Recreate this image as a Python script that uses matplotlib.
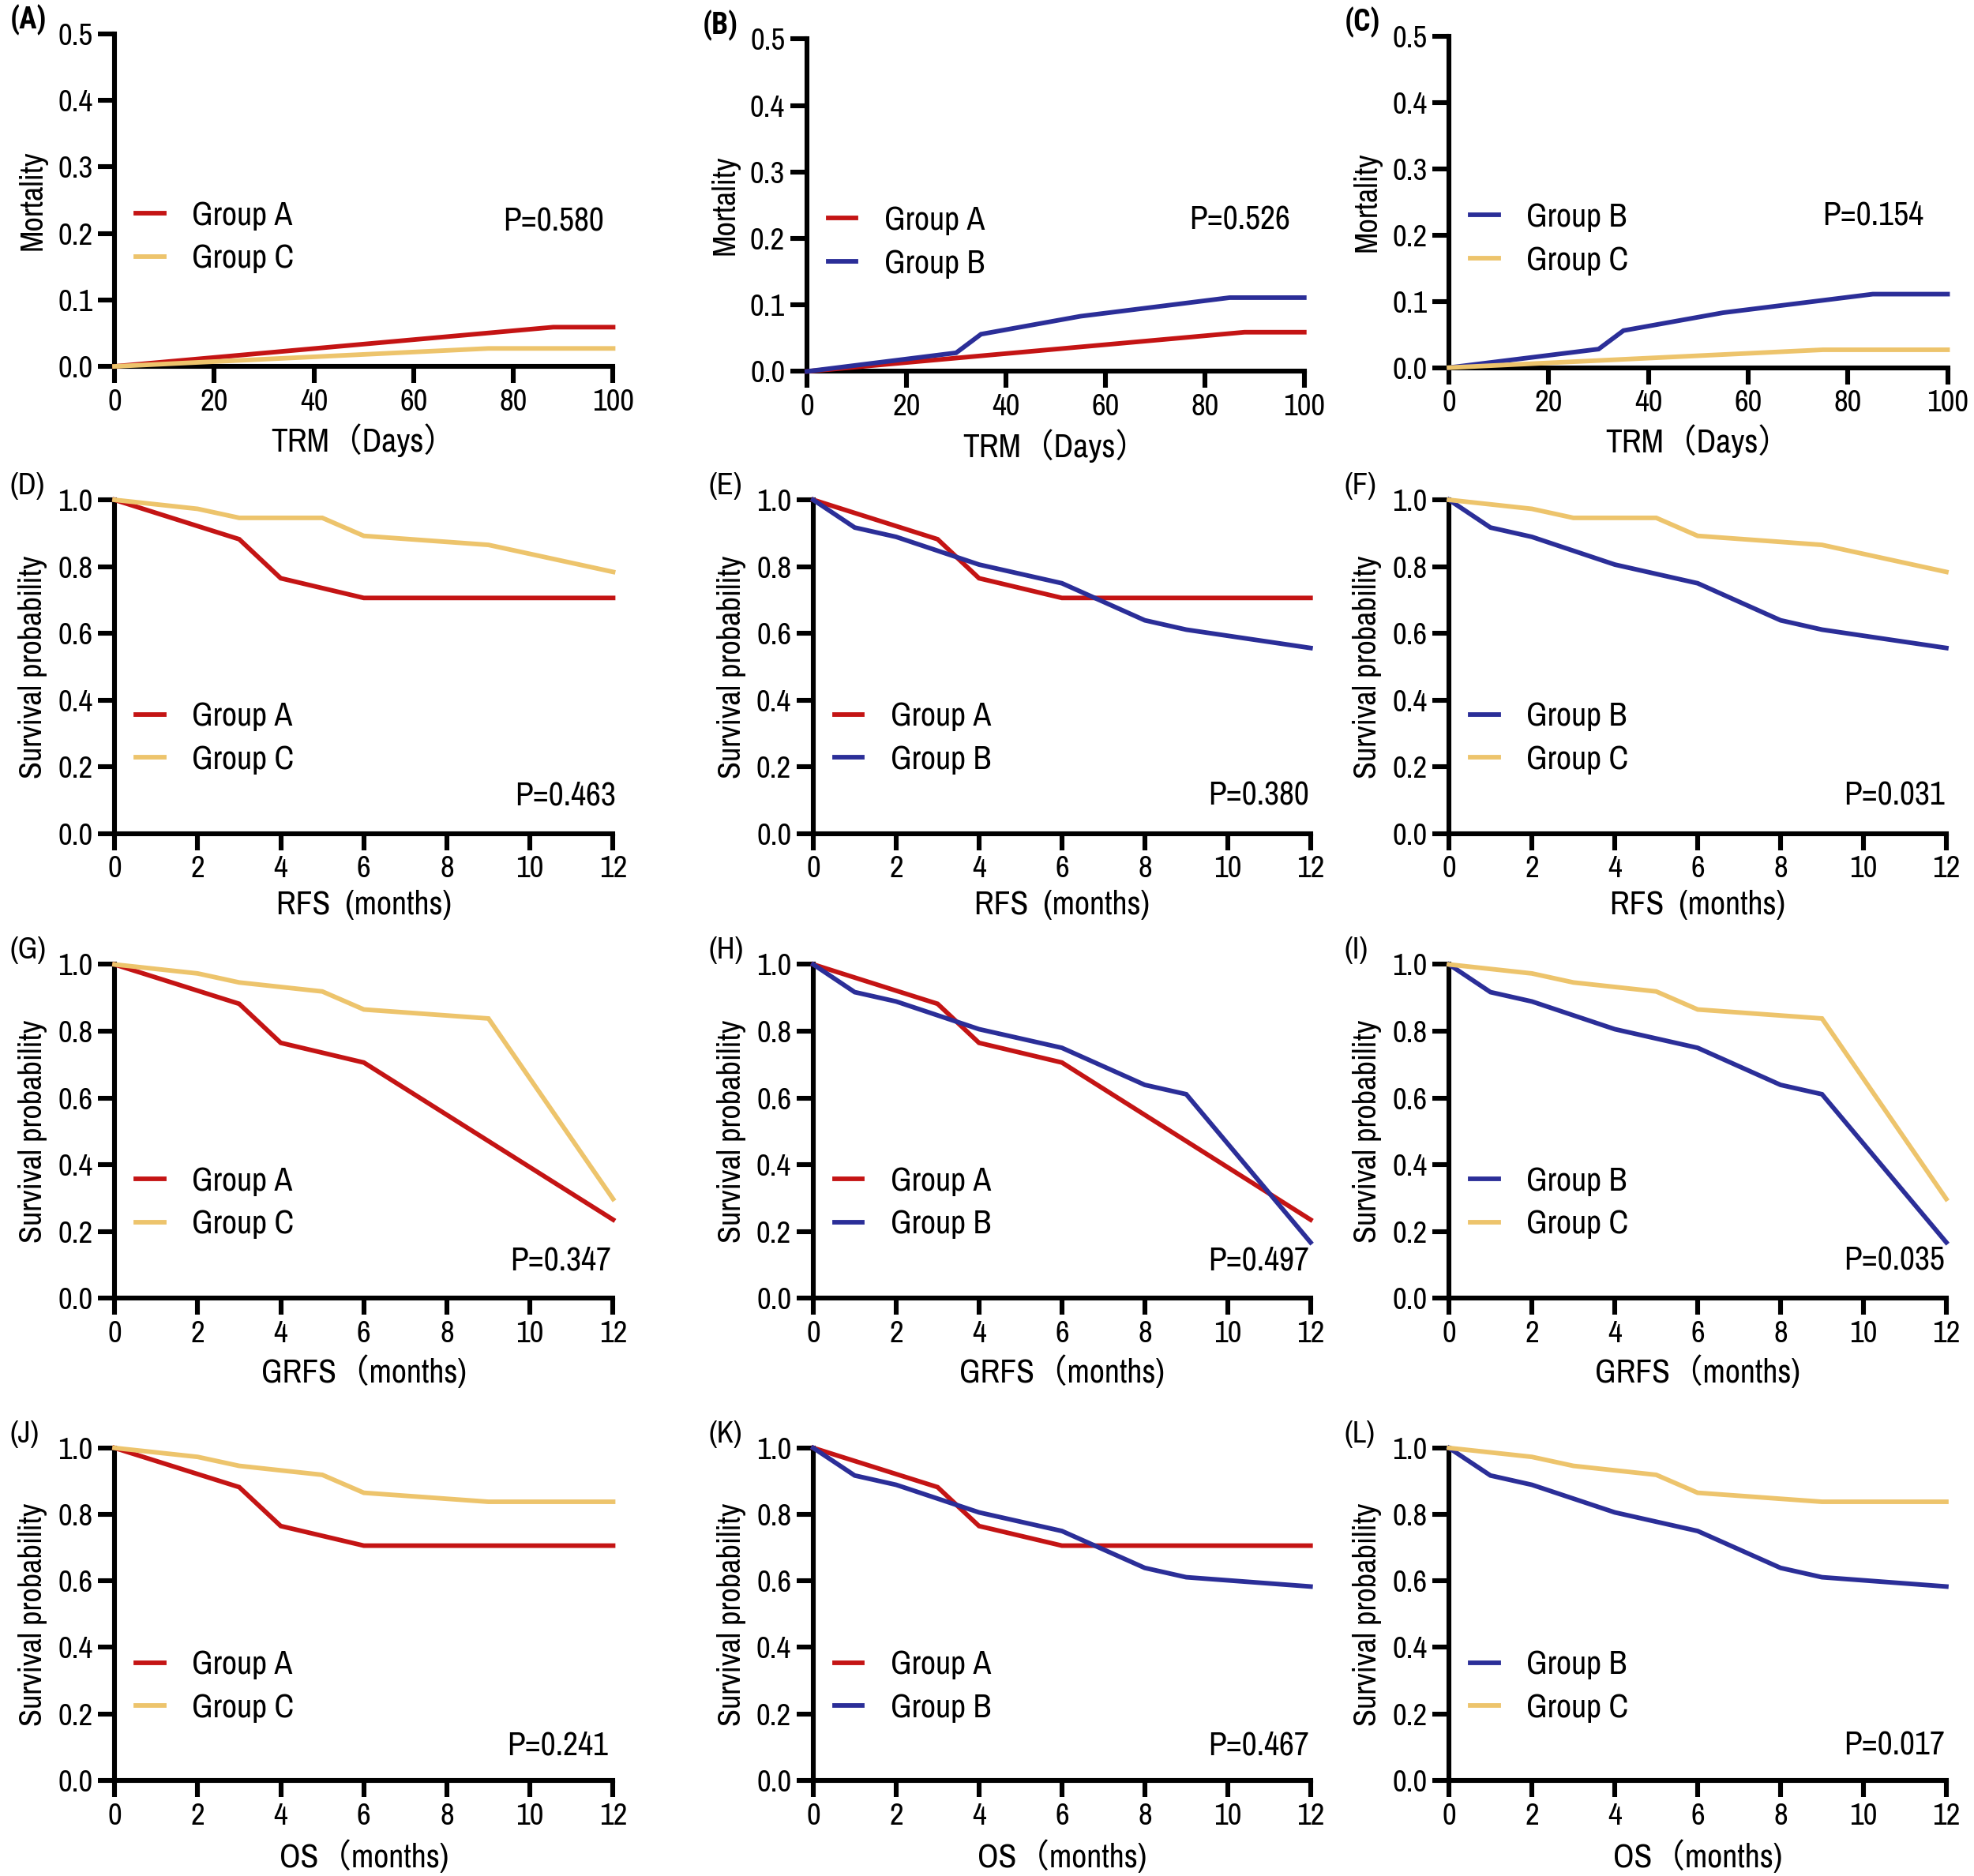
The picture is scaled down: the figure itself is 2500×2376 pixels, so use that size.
import matplotlib
matplotlib.use("Agg")
import matplotlib.pyplot as plt
from matplotlib import font_manager
from matplotlib.ticker import FormatStrFormatter

fl = font_manager.fontManager.ttflist
names = {f.name for f in fl}
prefs = ['Liberation Sans Narrow', 'Arial Narrow', 'Nimbus Sans Narrow', 'Archivo Narrow',
         'Roboto Condensed', 'PT Sans Narrow', 'Pragati Narrow', 'Liberation Sans']
main_font = next((p for p in prefs if p in names), 'DejaVu Sans')
bold_font = next((p for p in prefs if any(f.name == p and f.weight in (600, 700, 'bold', 'semibold')
                                          for f in fl)), 'Liberation Sans')
plt.rcParams['font.family'] = [main_font, 'Noto Sans CJK SC', 'DejaVu Sans']

RED = '#C41414'
BLUE = '#2B2E98'
YEL = '#EDC46C'

# ---------------- data ----------------
# TRM (days) cumulative mortality
trm_A_x = [0, 88, 100]
trm_A_y = [0.0, 0.059, 0.059]
trm_B_x = [0, 30, 35, 55, 85, 100]
trm_B_y = [0.0, 0.028, 0.056, 0.083, 0.111, 0.111]
trm_C_x = [0, 75, 100]
trm_C_y = [0.0, 0.027, 0.027]

# RFS (months)
rfs_A_x = [0, 3, 4, 6, 12]
rfs_A_y = [1.0, 0.882, 0.765, 0.706, 0.706]
rfs_B_x = [0, 1, 2, 4, 6, 8, 9, 12]
rfs_B_y = [1.0, 0.917, 0.889, 0.806, 0.750, 0.639, 0.611, 0.556]
rfs_C_x = [0, 2, 3, 5, 6, 9, 12]
rfs_C_y = [1.0, 0.973, 0.946, 0.946, 0.892, 0.865, 0.784]

# GRFS (months)
grfs_A_x = [0, 3, 4, 6, 12]
grfs_A_y = [1.0, 0.882, 0.765, 0.706, 0.235]
grfs_B_x = [0, 1, 2, 4, 6, 8, 9, 12]
grfs_B_y = [1.0, 0.917, 0.889, 0.806, 0.750, 0.639, 0.611, 0.167]
grfs_C_x = [0, 2, 3, 5, 6, 9, 12]
grfs_C_y = [1.0, 0.973, 0.946, 0.919, 0.865, 0.838, 0.297]

# OS (months)
os_A_x = [0, 3, 4, 6, 12]
os_A_y = [1.0, 0.882, 0.765, 0.706, 0.706]
os_B_x = [0, 1, 2, 4, 6, 8, 9, 12]
os_B_y = [1.0, 0.917, 0.889, 0.806, 0.750, 0.639, 0.611, 0.583]
os_C_x = [0, 2, 3, 5, 6, 9, 12]
os_C_y = [1.0, 0.973, 0.946, 0.919, 0.865, 0.838, 0.838]

p_values = [["P=0.580", "P=0.526", "P=0.154"],
            ["P=0.463", "P=0.380", "P=0.031"],
            ["P=0.347", "P=0.497", "P=0.035"],
            ["P=0.241", "P=0.467", "P=0.017"]]
panel_letters = [["(A)", "(B)", "(C)"], ["(D)", "(E)", "(F)"],
                 ["(G)", "(H)", "(I)"], ["(J)", "(K)", "(L)"]]
xlabels = ["TRM（Days）", "RFS  (months)", "GRFS（months)", "OS（months)"]
ylabels = ["Mortality", "Survival probability", "Survival probability", "Survival probability"]

rows_data = [
    {"A": (trm_A_x, trm_A_y), "B": (trm_B_x, trm_B_y), "C": (trm_C_x, trm_C_y)},
    {"A": (rfs_A_x, rfs_A_y), "B": (rfs_B_x, rfs_B_y), "C": (rfs_C_x, rfs_C_y)},
    {"A": (grfs_A_x, grfs_A_y), "B": (grfs_B_x, grfs_B_y), "C": (grfs_C_x, grfs_C_y)},
    {"A": (os_A_x, os_A_y), "B": (os_B_x, os_B_y), "C": (os_C_x, os_C_y)},
]
col_pairs = [("A", "C"), ("A", "B"), ("B", "C")]
colors = {"A": RED, "B": BLUE, "C": YEL}

# ---------------- layout (display px of a 1568x1490 image) ----------------
W, H = 1568.0, 1490.0
col_lr = [[(91, 487), (641, 1036), (1151, 1547)],
          [(91, 487), (646, 1041), (1151, 1546)],
          [(91, 487), (646, 1041), (1151, 1546)],
          [(91, 487), (646, 1041), (1151, 1546)]]
row_tb = [[(27, 291), (31, 295), (29, 292)],
          [(397, 662)] * 3,
          [(766, 1031)] * 3,
          [(1150, 1414)] * 3]
leg_y = [0.40, 0.296, 0.296, 0.293]
pv_pos = [[(0.982, 0.436), (0.972, 0.455), (0.952, 0.46)],
          [(1.005, 0.113), (0.997, 0.113), (0.997, 0.113)],
          [(0.997, 0.113), (0.997, 0.113), (0.997, 0.113)],
          [(0.990, 0.106), (0.997, 0.106), (0.997, 0.106)]]
xlab_y = [-0.223, -0.215, -0.219, -0.227]

fig = plt.figure(figsize=(25.0, 23.76), dpi=100)

TICK_FS = 28
LAB_FS = 29
SPW = 4.4

for r in range(4):
    for c in range(3):
        l, rr = col_lr[r][c]
        t, b = row_tb[r][c]
        ax = fig.add_axes([l / W, 1 - b / H, (rr - l) / W, (b - t) / H])
        g1, g2 = col_pairs[c]
        for g in (g1, g2):
            xs, ys = rows_data[r][g]
            ax.plot(xs, ys, color=colors[g], lw=4.2, label="Group " + g,
                    clip_on=False, solid_joinstyle='miter', zorder=3)
        if r == 0:
            ax.set_xlim(0, 100)
            ax.set_ylim(0, 0.5)
            ax.set_xticks([0, 20, 40, 60, 80, 100])
            ax.set_yticks([0, 0.1, 0.2, 0.3, 0.4, 0.5])
        else:
            ax.set_xlim(0, 12)
            ax.set_ylim(0, 1.0)
            ax.set_xticks([0, 2, 4, 6, 8, 10, 12])
            ax.set_yticks([0, 0.2, 0.4, 0.6, 0.8, 1.0])
        ax.yaxis.set_major_formatter(FormatStrFormatter('%.1f'))
        for s in ('top', 'right'):
            ax.spines[s].set_visible(False)
        for s in ('left', 'bottom'):
            ax.spines[s].set_linewidth(SPW)
        ax.tick_params(axis='both', width=SPW, length=15, labelsize=TICK_FS,
                       direction='out', pad=5)
        ax.set_ylabel(ylabels[r], fontsize=LAB_FS)
        ax.yaxis.set_label_coords(-0.135, 0.5)
        ax.set_xlabel(xlabels[r], fontsize=LAB_FS + 1, va='center')
        ax.xaxis.set_label_coords(0.5, xlab_y[r])
        ax.legend(loc='upper left', bbox_to_anchor=(0.043, leg_y[r] + 0.1), frameon=False,
                  fontsize=LAB_FS + 1, handlelength=0.85, handletextpad=0.85,
                  labelspacing=0.4, borderpad=0, borderaxespad=0)
        px, py = pv_pos[r][c]
        ax.text(px, py, p_values[r][c], transform=ax.transAxes, ha='right',
                va='center', fontsize=LAB_FS + 1)
        if r == 0:
            fig.text((l - 83) / W, 1 - (t - 11) / H, panel_letters[r][c],
                     fontsize=27, fontweight='bold',
                     family=[bold_font, 'DejaVu Sans'], ha='left', va='center')
        else:
            fig.text((l - 83) / W, 1 - (t - 11) / H, panel_letters[r][c],
                     fontsize=28, ha='left', va='center')

fig.savefig("out.png", dpi=100)
